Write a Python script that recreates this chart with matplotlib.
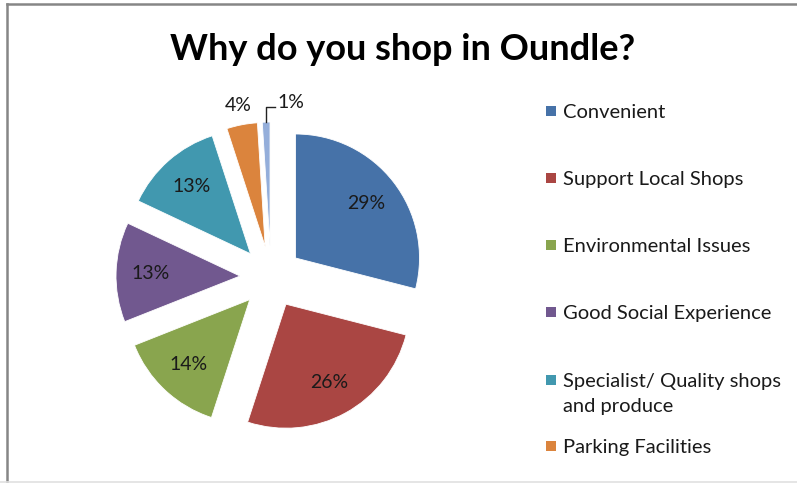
import matplotlib
matplotlib.use("Agg")
import matplotlib.pyplot as plt
from matplotlib.lines import Line2D
from matplotlib.patches import Rectangle
import numpy as np

# ---- data ----
categories = ["Convenient", "Support Local Shops", "Environmental Issues",
              "Good Social Experience", "Specialist/ Quality shops\nand produce",
              "Parking Facilities", "Other"]
values = [29, 26, 14, 13, 13, 4, 1]
colors = ["#4672A8", "#AA4643", "#89A54E", "#71588F", "#4198AF", "#DB843D", "#94AEDA"]
title = "Why do you shop in Oundle?"
legend_count = 6  # legend in the reference shows the first six entries

W, H = 797, 483
fig = plt.figure(figsize=(W / 100, H / 100), dpi=100)
fig.patch.set_facecolor("white")

FONT = "Lato"
FS = 14
LFS = 14.5

# pie axes: 1 data unit = 124 px, centre at (271, 277) image px
R_PX = 124.0
cx, cy = 271, 277
half = 200
ax = fig.add_axes([(cx - half) / W, (H - (cy + half)) / H, 2 * half / W, 2 * half / H])

explode = [0.25] * len(values)

def pct_fmt(p):
    return f"{p:.0f}%" if p >= 5 else ""

wedges, texts, autotexts = ax.pie(
    values, colors=colors, explode=explode, startangle=90, counterclock=False,
    autopct=pct_fmt, pctdistance=0.72, radius=1.0,
    wedgeprops=dict(linewidth=0.6, edgecolor="white"),
    textprops=dict(fontsize=FS, family=FONT, color="#1a1a1a"))

lim = half / R_PX
ax.set_xlim(-lim, lim)
ax.set_ylim(-lim, lim)
ax.set_aspect("equal")
ax.axis("off")

# small slices: labels outside
total = sum(values)
for i, w in enumerate(wedges):
    if values[i] / total * 100 >= 5:
        continue
    mid = np.deg2rad((w.theta1 + w.theta2) / 2)
    c = np.array(w.center)
    lbl = f"{values[i] / total * 100:.0f}%"
    if values[i] / total * 100 >= 2:
        p = c + 1.16 * w.r * np.array([np.cos(mid), np.sin(mid)])
        ax.text(p[0], p[1], lbl, ha="center", va="center", fontsize=FS,
                family=FONT, color="#1a1a1a")
    else:
        p0 = c + w.r * np.array([np.cos(mid), np.sin(mid)])
        p1 = p0 + np.array([0, 15 / R_PX])
        p2 = p1 + np.array([9 / R_PX, 0])
        ax.plot([p0[0], p1[0], p2[0]], [p0[1], p1[1], p2[1]], color="#222222", lw=1.0)
        ax.text(p2[0] + 2 / R_PX, p2[1] + 5 / R_PX, lbl, ha="left", va="center",
                fontsize=FS, family=FONT, color="#1a1a1a")

# title
fig.text(403 / W, 1 - 50 / H, title, ha="center", va="center", fontsize=26,
         fontweight="bold", family=FONT, color="black")

# legend (manual)
leg_y = [111, 178, 245, 312, 380, 446]
for i in range(legend_count):
    y = leg_y[i]
    fig.patches.append(Rectangle(((546) / W, 1 - (y + 5) / H), 10 / W, 10 / H,
                                 transform=fig.transFigure, facecolor=colors[i],
                                 edgecolor="none"))
    lines = categories[i].split("\n")
    for j, line in enumerate(lines):
        fig.text(563 / W, 1 - (y + 1.5 + j * 25) / H, line, ha="left", va="center",
                 fontsize=LFS, family=FONT, color="#1a1a1a")

# chart border (left/top gray, bottom light)
fig.add_artist(Line2D([6.5 / W, 6.5 / W], [0, 1 - 3.5 / H], transform=fig.transFigure,
                      color="#868686", lw=1.8))
fig.add_artist(Line2D([6.5 / W, 1], [1 - 3.5 / H, 1 - 3.5 / H], transform=fig.transFigure,
                      color="#868686", lw=1.8))
fig.add_artist(Line2D([0, 1], [0.6 / H, 0.6 / H], transform=fig.transFigure,
                      color="#E0E0E0", lw=1.2))

fig.savefig("out.png", dpi=100, facecolor="white")
